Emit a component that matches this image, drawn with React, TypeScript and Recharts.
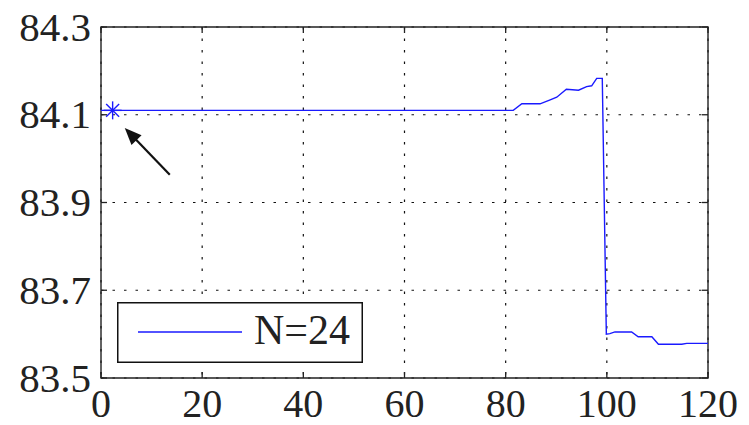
import React from 'react';
import {
  ComposedChart,
  Line,
  Scatter,
  XAxis,
  YAxis,
  CartesianGrid,
  ReferenceLine,
  ReferenceArea,
  Legend,
} from 'recharts';

// ---- data ----
const xValues = [
  0, 81.5, 83.2, 86.8, 88.8, 90.1, 92.0, 94.4, 96.0, 97.0, 98.0, 99.1, 99.9,
  100.6, 101.6, 104.9, 106.2, 108.9, 110.2, 114.8, 115.8, 120,
];
const yValues = [
  84.11, 84.11, 84.125, 84.125, 84.134, 84.14, 84.158, 84.156, 84.164, 84.166,
  84.183, 84.183, 83.6, 83.601, 83.605, 83.605, 83.594, 83.594, 83.577, 83.577,
  83.579, 83.579,
];
const markerX = [2.3];
const markerY = [84.11];
const xTicks = [0, 20, 40, 60, 80, 100, 120];
const yTicks = [83.5, 83.7, 83.9, 84.1, 84.3];
const seriesName = 'N=24';
const arrowTail = { x: 13.6, y: 83.963 };
const arrowTip = { x: 4.7, y: 84.07 };

const data = xValues.map((x, i) => ({ x, y: yValues[i] }));
const markerData = markerX.map((x, i) => ({ x, y: markerY[i] }));

// ---- layout / style ----
const W = 749;
const H = 425;
const PLOT_LEFT = 101;
const PLOT_RIGHT = 708;
const PLOT_TOP = 27;
const PLOT_BOTTOM = 378;
const FONT = "'Liberation Serif', 'Times New Roman', serif";
const TEXT_COLOR = '#222';
const AXIS_COLOR = '#222';
const BLUE = '#1a1aff';
const TICK_LEN = 6;
const textStyle = { fontFamily: FONT };

const XTick = (props: any) => {
  const { x, payload } = props;
  return (
    <g>
      <line x1={x} x2={x} y1={PLOT_BOTTOM} y2={PLOT_BOTTOM - TICK_LEN} stroke={AXIS_COLOR} strokeWidth={1.3} />
      <line x1={x} x2={x} y1={PLOT_TOP} y2={PLOT_TOP + TICK_LEN} stroke={AXIS_COLOR} strokeWidth={1.3} />
      <text
        x={x}
        y={PLOT_BOTTOM + 39}
        textAnchor="middle"
        style={textStyle}
        fontSize={40}
        fill={TEXT_COLOR}
      >
        {String(payload.value)}
      </text>
    </g>
  );
};

const YTick = (props: any) => {
  const { y, payload } = props;
  return (
    <g>
      <line x1={PLOT_LEFT} x2={PLOT_LEFT + TICK_LEN} y1={y} y2={y} stroke={AXIS_COLOR} strokeWidth={1.3} />
      <line x1={PLOT_RIGHT} x2={PLOT_RIGHT - TICK_LEN} y1={y} y2={y} stroke={AXIS_COLOR} strokeWidth={1.3} />
      <text
        x={PLOT_LEFT - 10}
        y={y + 13.5}
        textAnchor="end"
        style={textStyle}
        fontSize={41}
        fill={TEXT_COLOR}
      >
        {Number(payload.value).toFixed(1)}
      </text>
    </g>
  );
};

const Asterisk = (props: any) => {
  const { cx, cy } = props;
  const r = 9;
  const d = r * 0.72;
  return (
    <g stroke={BLUE} strokeWidth={1.4}>
      <line x1={cx - r} x2={cx + r} y1={cy} y2={cy} />
      <line x1={cx} x2={cx} y1={cy - r} y2={cy + r} />
      <line x1={cx - d} x2={cx + d} y1={cy - d} y2={cy + d} />
      <line x1={cx - d} x2={cx + d} y1={cy + d} y2={cy - d} />
    </g>
  );
};

const Arrow = (props: any) => {
  const { x1, y1, x2, y2 } = props;
  const dx = x2 - x1;
  const dy = y2 - y1;
  const len = Math.sqrt(dx * dx + dy * dy) || 1;
  const ux = dx / len;
  const uy = dy / len;
  const headLen = 17;
  const headHalf = 7;
  const bx = x2 - ux * headLen;
  const by = y2 - uy * headLen;
  const px = -uy;
  const py = ux;
  return (
    <g>
      <line x1={x1} y1={y1} x2={bx + ux * 2} y2={by + uy * 2} stroke="#111" strokeWidth={2.2} />
      <polygon
        points={`${x2},${y2} ${bx + px * headHalf},${by + py * headHalf} ${bx - px * headHalf},${by - py * headHalf}`}
        fill="#111"
      />
    </g>
  );
};

const LegendBox = () => (
  <svg width={246} height={61} style={{ display: 'block' }}>
    <rect x={0.75} y={0.75} width={244.5} height={59.5} fill="#fff" stroke="#111" strokeWidth={1.5} />
    <line x1={21} x2={125} y1={30} y2={30} stroke={BLUE} strokeWidth={1.4} />
    <text x={137} y={42} style={textStyle} fontSize={42} fill={TEXT_COLOR}>
      {seriesName}
    </text>
  </svg>
);

export default function App() {
  return (
    <div style={{ position: 'absolute', left: 0, top: 0, width: W, height: H, background: '#fff', fontFamily: FONT }}>
      <ComposedChart
        width={W}
        height={H}
        data={data}
        margin={{ top: PLOT_TOP, right: W - PLOT_RIGHT, bottom: 0, left: 0 }}
      >
        <CartesianGrid
          stroke="#111"
          strokeWidth={1.2}
          strokeDasharray="2.5 9"
          horizontalValues={yTicks}
          verticalValues={xTicks}
        />
        <XAxis
          dataKey="x"
          type="number"
          domain={[0, 120]}
          ticks={xTicks}
          height={H - PLOT_BOTTOM}
          tickSize={0}
          tickMargin={0}
          tickLine={false}
          axisLine={false}
          tick={<XTick />}
          interval={0}
          allowDataOverflow
        />
        <YAxis
          dataKey="y"
          type="number"
          domain={[83.5, 84.3]}
          ticks={yTicks}
          width={PLOT_LEFT}
          tickSize={0}
          tickMargin={0}
          tickLine={false}
          axisLine={false}
          tick={<YTick />}
          interval={0}
          allowDataOverflow
        />
        <ReferenceArea
          x1={0}
          x2={120}
          y1={83.5}
          y2={84.3}
          fill="none"
          stroke={AXIS_COLOR}
          strokeWidth={1.4}
          ifOverflow="visible"
        />
        <Line
          type="linear"
          dataKey="y"
          name={seriesName}
          stroke={BLUE}
          strokeWidth={1.4}
          dot={false}
          activeDot={false}
          isAnimationActive={false}
        />
        <Scatter
          data={markerData}
          dataKey="y"
          shape={<Asterisk />}
          legendType="none"
          isAnimationActive={false}
        />
        <ReferenceLine
          segment={[arrowTail, arrowTip]}
          shape={<Arrow />}
          ifOverflow="visible"
        />
        <Legend
          layout="horizontal"
          verticalAlign="middle"
          align="center"
          content={<LegendBox />}
          wrapperStyle={{ position: 'absolute', left: 117, top: 302, width: 246, height: 61, margin: 0, padding: 0 }}
        />
      </ComposedChart>
    </div>
  );
}
